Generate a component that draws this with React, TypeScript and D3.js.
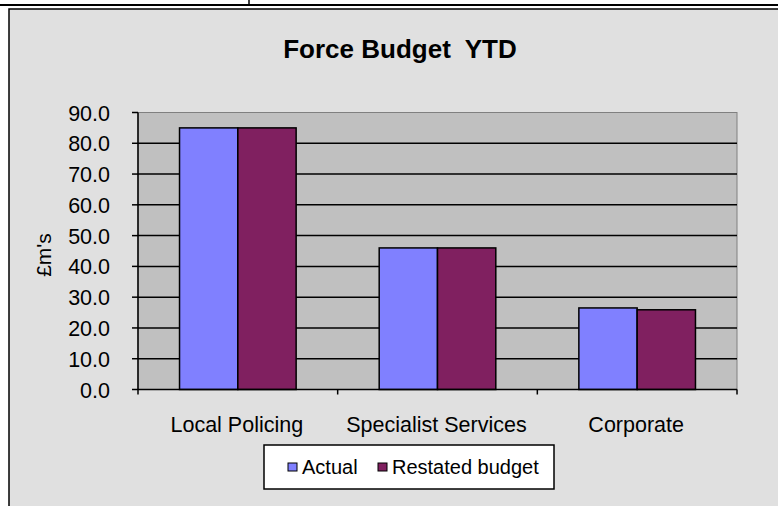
import React from "react";
import * as d3 from "d3";

const categories = ["Local Policing", "Specialist Services", "Corporate"];
const seriesNames = ["Actual", "Restated budget"];
const actual = [85.0, 46.0, 26.5];
const restated = [85.0, 46.0, 25.9];
const yTicks = [0, 10, 20, 30, 40, 50, 60, 70, 80, 90];
const colors = ["#8080FF", "#802060"];

const W = 778;
const H = 506;
const plot = { left: 138, right: 737, top: 112.5, bottom: 389.5 };
const FONT = "'Liberation Sans', Arial, sans-serif";

export default function App() {
  const x = d3.scaleBand<string>().domain(categories).range([plot.left, plot.right]).paddingInner(0).paddingOuter(0);
  const y = d3.scaleLinear().domain([0, 90]).range([plot.bottom, plot.top]);
  const groupW = x.bandwidth() * 0.584;
  const x1 = d3.scaleBand<string>().domain(seriesNames).range([0, groupW]);
  const series = [actual, restated];

  return (
    <svg width={W} height={H} style={{ position: "absolute", left: 0, top: 0 }} fontFamily={FONT}>
      {/* page lines */}
      <rect x={0} y={0} width={W} height={H} fill="#ffffff" />
      <line x1={0} x2={W} y1={5} y2={5} stroke="#000" strokeWidth={2} />
      <line x1={249} x2={249} y1={0} y2={5} stroke="#000" strokeWidth={1.5} />
      {/* chart frame */}
      <rect x={9} y={9} width={900} height={700} fill="#e0e0e0" stroke="#000" strokeWidth={1.5} />
      {/* title */}
      <text x={400} y={58} textAnchor="middle" fontSize={26} fontWeight="bold" style={{ whiteSpace: "pre" }}>
        {"Force Budget  YTD"}
      </text>
      {/* plot area */}
      <rect x={plot.left} y={plot.top} width={plot.right - plot.left} height={plot.bottom - plot.top} fill="#c0c0c0" stroke="#808080" strokeWidth={1} />
      {yTicks.map((t) => (
        <g key={t}>
          {t > 0 && t < 90 && (
            <line x1={plot.left} x2={plot.right} y1={y(t)} y2={y(t)} stroke="#000" strokeWidth={1.5} />
          )}
          <line x1={plot.left - 6} x2={plot.left} y1={y(t)} y2={y(t)} stroke="#000" strokeWidth={1.5} />
          <text x={110} y={y(t) + 8} textAnchor="end" fontSize={21.5} fill="#000">
            {t.toFixed(1)}
          </text>
        </g>
      ))}
      {/* bars */}
      {categories.map((c, i) =>
        series.map((s, j) => {
          const bx = (x(c) as number) + (x.bandwidth() - groupW) / 2 + (x1(seriesNames[j]) as number);
          return (
            <rect
              key={c + j}
              x={bx}
              y={y(s[i])}
              width={x1.bandwidth()}
              height={y(0) - y(s[i])}
              fill={colors[j]}
              stroke="#000"
              strokeWidth={1.5}
            />
          );
        })
      )}
      {/* axes */}
      <line x1={plot.left} x2={plot.left} y1={plot.top} y2={plot.bottom} stroke="#000" strokeWidth={1.5} />
      <line x1={plot.left} x2={plot.right} y1={plot.bottom} y2={plot.bottom} stroke="#000" strokeWidth={1.5} />
      {[0, 1, 2, 3].map((k) => (
        <line key={k} x1={plot.left + k * x.step()} x2={plot.left + k * x.step()} y1={plot.bottom} y2={plot.bottom + 5} stroke="#000" strokeWidth={1.5} />
      ))}
      {categories.map((c) => (
        <text key={c} x={(x(c) as number) + x.bandwidth() / 2 - 1} y={432} textAnchor="middle" fontSize={21.5}>
          {c}
        </text>
      ))}
      {/* y title */}
      <text transform={`translate(51,255) rotate(-90)`} textAnchor="middle" fontSize={21}>
        £m's
      </text>
      {/* legend */}
      <rect x={264} y={445} width={290} height={44} fill="#ffffff" stroke="#000" strokeWidth={1.5} />
      {seriesNames.map((n, j) => {
        const lx = j === 0 ? 288 : 378;
        return (
          <g key={n}>
            <rect x={lx} y={463} width={9} height={8} fill={colors[j]} stroke="#000" strokeWidth={1} />
            <text x={lx + 14} y={474} fontSize={20}>
              {n}
            </text>
          </g>
        );
      })}
    </svg>
  );
}
